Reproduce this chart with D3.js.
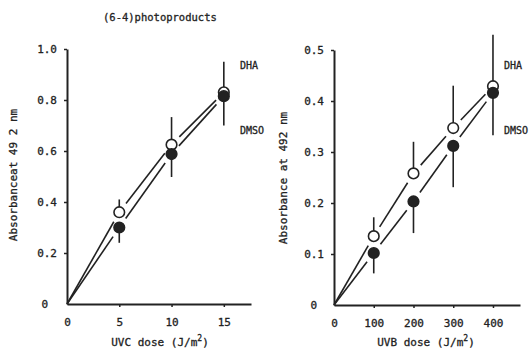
<!DOCTYPE html>
<html>
<head>
<meta charset="utf-8">
<script src="https://cdn.jsdelivr.net/npm/d3@7"></script>
<style>
  body { margin: 0; background: #fff; }
  svg { display: block; }
  text { font-family: "DejaVu Sans Mono", "Liberation Mono", monospace; fill: #222; stroke: #222; stroke-width: 0.3px; }
</style>
</head>
<body>
<div id="chart"></div>
<script>
// UVC panel
var uvcDose = [5, 10, 15];
var uvcDHA = [0.36, 0.625, 0.83];
var uvcDHAErrTop = [0.41, 0.733, 0.95];
var uvcDMSO = [0.30, 0.588, 0.815];
var uvcDMSOErrBottom = [0.24, 0.498, 0.70];
var uvcXTicks = [0, 5, 10, 15];
var uvcYTicks = [0, 0.2, 0.4, 0.6, 0.8, 1.0];

// UVB panel
var uvbDose = [100, 200, 300, 400];
var uvbDHA = [0.135, 0.258, 0.347, 0.429];
var uvbDHAErrTop = [0.172, 0.32, 0.43, 0.53];
var uvbDMSO = [0.102, 0.203, 0.312, 0.416];
var uvbDMSOErrBottom = [0.062, 0.141, 0.231, 0.333];
var uvbXTicks = [0, 100, 200, 300, 400];
var uvbYTicks = [0, 0.1, 0.2, 0.3, 0.4, 0.5];

var w = 532,
    h = 351,
    ink = "#222",
    gap = 11,
    r = 5.3;

var svg = d3.select("#chart").append("svg")
    .attr("width", w)
    .attr("height", h);

svg.append("text")
    .attr("x", 103)
    .attr("y", 21)
    .style("font-size", "10.5px")
    .text("(6-4)photoproducts");

function yFormat(d) {
    return d === 0 ? "0" : d3.format(".1f")(d);
}

// line from origin through the points, broken around each marker
function brokenLine(g, x, y, xs, ys) {
    var pts = [[x(0), y(0)]].concat(xs.map(function (d, i) {
        return [x(d), y(ys[i])];
    }));
    var segs = d3.pairs(pts).map(function (p, i) {
        var dx = p[1][0] - p[0][0], dy = p[1][1] - p[0][1];
        var len = Math.sqrt(dx * dx + dy * dy);
        var s = i === 0 ? 0 : gap, e = gap;
        return {
            x1: p[0][0] + dx * s / len, y1: p[0][1] + dy * s / len,
            x2: p[1][0] - dx * e / len, y2: p[1][1] - dy * e / len
        };
    });
    g.selectAll(null)
        .data(segs)
        .enter()
        .append("line")
        .attr("x1", function (d) { return d.x1; })
        .attr("y1", function (d) { return d.y1; })
        .attr("x2", function (d) { return d.x2; })
        .attr("y2", function (d) { return d.y2; })
        .attr("stroke", ink)
        .attr("stroke-width", 1.6);
}

function errorBars(g, x, y, xs, ys, ends) {
    g.selectAll(null)
        .data(xs)
        .enter()
        .append("line")
        .attr("x1", function (d) { return x(d); })
        .attr("x2", function (d) { return x(d); })
        .attr("y1", function (d, i) { return y(ys[i]); })
        .attr("y2", function (d, i) { return y(ends[i]); })
        .attr("stroke", ink)
        .attr("stroke-width", 1.6);
}

function markers(g, x, y, xs, ys, filled) {
    g.selectAll(null)
        .data(xs)
        .enter()
        .append("circle")
        .attr("cx", function (d) { return x(d); })
        .attr("cy", function (d, i) { return y(ys[i]); })
        .attr("r", r)
        .attr("fill", filled ? ink : "#fff")
        .attr("stroke", ink)
        .attr("stroke-width", 1.6);
}

function panel(opt) {
    var g = svg.append("g");
    var x = d3.scaleLinear().domain(opt.xDomain).range(opt.xRange);
    var y = d3.scaleLinear().domain(opt.yDomain).range(opt.yRange);

    var xAxis = g.append("g")
        .attr("transform", "translate(0," + opt.yRange[0] + ")")
        .call(d3.axisBottom(x).tickValues(opt.xTicks).tickSizeInner(3).tickSizeOuter(0).tickPadding(11)
            .tickFormat(d3.format("d")));
    var yAxis = g.append("g")
        .attr("transform", "translate(" + opt.xRange[0] + ",0)")
        .call(d3.axisLeft(y).tickValues(opt.yTicks).tickSizeInner(3).tickSizeOuter(0).tickPadding(7)
            .tickFormat(yFormat));

    [xAxis, yAxis].forEach(function (a) {
        a.select(".domain").attr("stroke", ink).attr("stroke-width", 2);
        a.selectAll(".tick line").attr("stroke", ink).attr("stroke-width", 1.5);
        a.selectAll(".tick text")
            .attr("fill", ink)
            .style("font-size", "11px")
            .style("font-family", "DejaVu Sans Mono, monospace");
    });
    yAxis.selectAll(".tick text")
        .filter(function (d) { return d === 0; })
        .attr("dx", opt.zeroShift);
    xAxis.selectAll(".tick line").filter(function (d) { return d === 0; }).remove();
    yAxis.selectAll(".tick line").filter(function (d) { return d === 0; }).remove();

    brokenLine(g, x, y, opt.dose, opt.dha);
    brokenLine(g, x, y, opt.dose, opt.dmso);
    errorBars(g, x, y, opt.dose, opt.dha, opt.dhaErr);
    errorBars(g, x, y, opt.dose, opt.dmso, opt.dmsoErr);
    markers(g, x, y, opt.dose, opt.dha, false);
    markers(g, x, y, opt.dose, opt.dmso, true);

    g.append("text")
        .attr("x", opt.labelX)
        .attr("y", 69)
        .style("font-size", "10px")
        .text("DHA");
    g.append("text")
        .attr("x", opt.labelX)
        .attr("y", 134)
        .style("font-size", "10px")
        .text("DMSO");

    g.append("text")
        .attr("transform", "translate(" + opt.yTitleX + "," + opt.yTitleY + ") rotate(-90)")
        .attr("text-anchor", "middle")
        .style("font-size", "11px")
        .text(opt.yTitle);

    var xt = g.append("text")
        .attr("x", opt.xTitleX)
        .attr("y", 346)
        .attr("text-anchor", "middle")
        .style("font-size", "11px");
    xt.append("tspan").text(opt.xTitle + " (J/m");
    xt.append("tspan").attr("dy", -5).style("font-size", "8px").text("2");
    xt.append("tspan").attr("dy", 5).text(")");
}

panel({
    xDomain: [0, 17.6], xRange: [67, 251],
    yDomain: [0, 1], yRange: [304, 49],
    xTicks: uvcXTicks, yTicks: uvcYTicks,
    dose: uvcDose, dha: uvcDHA, dhaErr: uvcDHAErrTop,
    dmso: uvcDMSO, dmsoErr: uvcDMSOErrBottom,
    zeroShift: -9, labelX: 240,
    yTitle: "Absorbanceat 49 2 nm", yTitleX: 17, yTitleY: 175,
    xTitle: "UVC dose", xTitleX: 160
});

panel({
    xDomain: [0, 468], xRange: [334, 520],
    yDomain: [0, 0.5], yRange: [305, 50],
    xTicks: uvbXTicks, yTicks: uvbYTicks,
    dose: uvbDose, dha: uvbDHA, dhaErr: uvbDHAErrTop,
    dmso: uvbDMSO, dmsoErr: uvbDMSOErrBottom,
    zeroShift: -7, labelX: 504,
    yTitle: "Absorbance at 492 nm", yTitleX: 287, yTitleY: 178,
    xTitle: "UVB dose", xTitleX: 426
});
</script>
</body>
</html>
